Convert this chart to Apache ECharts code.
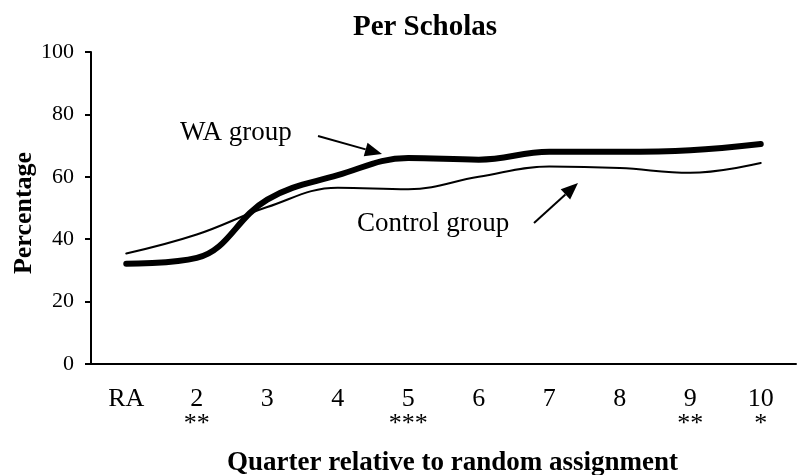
<!DOCTYPE html>
<html>
<head>
<meta charset="utf-8">
<script src="https://cdn.jsdelivr.net/npm/echarts@6/dist/echarts.min.js"></script>
<style>
  html, body { margin: 0; padding: 0; background: #fff; }
  #chart { width: 797px; height: 475px; }
</style>
</head>
<body>
<div id="chart"></div>
<script>
// quarters relative to random assignment
const quarters = ['RA', '2', '3', '4', '5', '6', '7', '8', '9', '10'];
// significance stars shown under the quarter labels
const stars = ['', '**', '', '', '***', '', '', '', '**', '*'];
// percentage employed
const waGroup = [32.1, 34.0, 52.7, 60.5, 66.0, 65.5, 68.0, 68.0, 68.5, 70.5];
const controlGroup = [35.4, 41.5, 50.3, 56.5, 56.0, 60.0, 63.3, 62.8, 61.3, 64.4];
const yTicks = [0, 20, 40, 60, 80, 100];

const font = "'Liberation Serif', 'Times New Roman', serif";

// little helper for the annotation arrows (line + filled head)
function arrow(x1, y1, x2, y2) {
    const len = 17, half = 7;
    const dx = x2 - x1, dy = y2 - y1;
    const d = Math.sqrt(dx * dx + dy * dy);
    const ux = dx / d, uy = dy / d;
    const bx = x2 - ux * len, by = y2 - uy * len;
    return [
        { type: 'line', shape: { x1: x1, y1: y1, x2: bx, y2: by }, style: { stroke: '#000', lineWidth: 2 } },
        { type: 'polygon', shape: { points: [[x2, y2], [bx - uy * half, by + ux * half], [bx + uy * half, by - ux * half]] }, style: { fill: '#000' } }
    ];
}

const chart = echarts.init(document.getElementById('chart'));
const option = {
    animation: false,
    backgroundColor: '#fff',
    title: {
        text: 'Per Scholas',
        left: 420,
        top: 8,
        textAlign: 'center',
        textStyle: { fontFamily: font, fontSize: 29, fontWeight: 'bold', color: '#000' }
    },
    grid: { left: 91, right: 1, top: 52, bottom: 111, containLabel: false, outerBoundsMode: 'none' },
    xAxis: {
        type: 'category',
        data: quarters,
        boundaryGap: true,
        name: 'Quarter relative to random assignment',
        nameLocation: 'middle',
        nameGap: 86,
        nameMoveOverlap: false,
        nameTextStyle: { fontFamily: font, fontSize: 27, fontWeight: 'bold', color: '#000', padding: [0, 0, 0, 18] },
        axisLine: { lineStyle: { color: '#000', width: 2 } },
        axisTick: { lineStyle: { color: '#000', width: 2 }, length: 7 },
        axisLabel: {
            margin: 23,
            lineHeight: 25,
            formatter: (v, i) => v + '\n' + (stars[i] || ' '),
            fontFamily: font, fontSize: 26, color: '#000'
        }
    },
    yAxis: {
        type: 'value',
        min: 0,
        max: 100,
        interval: 20,
        name: 'Percentage',
        nameLocation: 'middle',
        nameGap: 54,
        nameMoveOverlap: false,
        nameTextStyle: { fontFamily: font, fontSize: 26, fontWeight: 'bold', color: '#000', padding: [0, 10, 0, 0] },
        axisLine: { show: true, lineStyle: { color: '#000', width: 2 } },
        axisTick: { show: true, lineStyle: { color: '#000', width: 2 }, length: 6 },
        axisLabel: {
            margin: 17,
            formatter: v => (yTicks.indexOf(v) >= 0 ? String(v) : ''),
            fontFamily: font, fontSize: 22, color: '#000'
        },
        splitLine: { show: false }
    },
    series: [
        {
            name: 'WA group',
            type: 'line',
            data: waGroup,
            smooth: 0.4,
            symbol: 'none',
            lineStyle: { color: '#000', width: 6, cap: 'round' }
        },
        {
            name: 'Control group',
            type: 'line',
            data: controlGroup,
            smooth: 0.4,
            symbol: 'none',
            lineStyle: { color: '#000', width: 2, cap: 'round' }
        }
    ],
    graphic: [
        { type: 'text', x: 180, y: 133, style: { text: 'WA group', font: '27px ' + font, fill: '#000', verticalAlign: 'middle' } },
        { type: 'text', x: 357, y: 224, style: { text: 'Control group', font: '27px ' + font, fill: '#000', verticalAlign: 'middle' } }
    ].concat(arrow(318, 136, 382, 154), arrow(534, 223, 578, 183))
};
chart.setOption(option);
</script>
</body>
</html>
